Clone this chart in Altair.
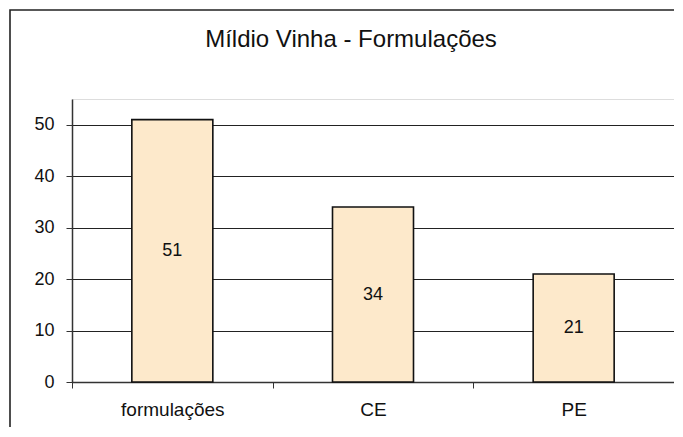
import altair as alt
import pandas as pd

categories = ["formulações", "CE", "PE"]
values = [51, 34, 21]
y_ticks = [0, 10, 20, 30, 40, 50]
title_text = "Míldio Vinha - Formulações"

df = pd.DataFrame({"cat": categories, "val": values})
one_df = pd.DataFrame({"k": [0]})

FONT = "Liberation Sans"

x_enc = alt.X(
    "cat:N",
    sort=categories,
    title=None,
    scale=alt.Scale(paddingInner=0, paddingOuter=0),
    axis=alt.Axis(
        labelAngle=0,
        labelFontSize=19,
        labelFont=FONT,
        labelColor="#111",
        labelPadding=12,
        tickBand="extent",
        tickSize=6,
        tickColor="#333",
        domainColor="#333",
        domainWidth=1.5,
        grid=False,
    ),
)

y_scale = alt.Scale(domain=[0, 55], nice=False)

frame = alt.Chart(one_df).mark_rect(
    fill=None, fillOpacity=0, stroke="#222", strokeWidth=1.6
).encode(
    x=alt.value(-62), x2=alt.value(800), y=alt.value(-89), y2=alt.value(600)
)

title = alt.Chart(one_df).mark_text(
    fontSize=24, font=FONT, color="#111", align="center", baseline="alphabetic"
).encode(
    x=alt.value(279), y=alt.value(-52), text=alt.value(title_text)
)

bars = alt.Chart(df).mark_bar(
    size=81, color="#FDE9CB", stroke="#111", strokeWidth=1.6
).encode(
    x=x_enc,
    y=alt.Y(
        "val:Q",
        title=None,
        scale=y_scale,
        axis=alt.Axis(
            values=y_ticks,
            labelFontSize=18,
            labelFont=FONT,
            labelColor="#111",
            labelPadding=12,
            tickSize=6,
            tickColor="#333",
            domainColor="#333",
            domainWidth=1.5,
            grid=True,
            gridColor="#222",
            gridWidth=1,
        ),
    ),
)

labels = alt.Chart(df).transform_calculate(mid="datum.val / 2").mark_text(
    fontSize=18, font=FONT, color="#111", baseline="middle", align="center"
).encode(
    x=alt.X("cat:N", sort=categories),
    y=alt.Y("mid:Q", scale=y_scale),
    text=alt.Text("val:Q"),
)

chart = alt.layer(frame, title, bars, labels).properties(
    width=602,
    height=283,
    autosize=alt.AutoSizeParams(type="none"),
    padding={"left": 64, "top": 91, "right": 0, "bottom": 45},
).configure_view(
    stroke="#8a8a8a", strokeWidth=2
).configure(background="white")

chart.save("out.html", embed_options={"renderer": "svg", "actions": False})
